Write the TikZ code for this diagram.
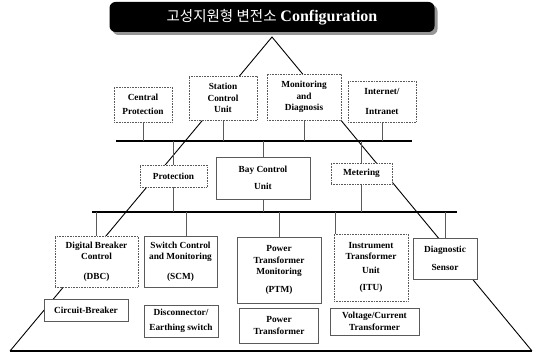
\documentclass[tikz,border=0pt]{standalone}
\usepackage{fontspec}
\setmainfont{Liberation Serif}
\newfontfamily\kofont{Noto Sans CJK KR}
\usepackage{tikz}
\usetikzlibrary{shadows, backgrounds, calc}
\definecolor{ssgray}{RGB}{90,90,90}
\definecolor{ssshade}{RGB}{150,150,150}

\begin{document}
\begin{tikzpicture}[
  x=1pt, y=-1pt,
  every node/.style={font=\bfseries\fontsize{9.3}{11.5}\selectfont},
  unit/.style={rectangle, draw=ssgray, fill=white, align=center,
               inner sep=1pt, line width=0.6pt},
  dotunit/.style={unit, densely dotted},
  title/.style={rectangle, rounded corners=6pt, fill=black, text=white,
                minimum width=325, minimum height=30,
                drop shadow={shadow xshift=3pt, shadow yshift=-3pt,
                             fill=ssshade, opacity=1}},
  bus/.style={line width=1.6pt},
  link/.style={draw=ssgray, line width=0.6pt},
  frame/.style={line width=0.9pt},
]
\useasboundingbox (0,0) rectangle (540,352);

% Title
\node[title] (ttl) at (272,17)
  {{\kofont\mdseries\fontsize{14.5}{16}\selectfont 고성지원형 변전소}\,
   {\fontsize{16}{18}\selectfont Configuration}};

% ── Station level ──
\node[dotunit, minimum width=58, minimum height=35] (cprot) at (143,104.5)
  {Central\\[3pt]Protection};
\node[dotunit, minimum width=68, minimum height=44] (scu) at (223,98)
  {Station\\Control\\Unit};
\node[dotunit, minimum width=74, minimum height=46] (mon) at (304,97)
  {Monitoring\\and\\Diagnosis};
\node[dotunit, minimum width=68, minimum height=41] (inet) at (382,101.5)
  {Internet/\\[8pt]Intranet};

% ── Bay level ──
\node[dotunit, minimum width=67, minimum height=22] (prot) at (173.5,176)
  {Protection};
\node[unit, minimum width=94, minimum height=42] (bay) at (263,178)
  {Bay Control\\[5pt]Unit};
\node[dotunit, minimum width=61, minimum height=21] (met) at (361.5,173.5)
  {Metering};

% ── Process level ──
\node[dotunit, minimum width=83, minimum height=51] (dbc) at (96.5,261.5)
  {Digital Breaker\\Control\\[8pt](DBC)};
\node[unit, minimum width=73, minimum height=51] (scm) at (180.5,261.5)
  {Switch Control\\and Monitoring\\[8pt](SCM)};
\node[unit, minimum width=84, minimum height=66] (ptm) at (279,270)
  {Power\\Transformer\\Monitoring\\[6pt](PTM)};
\node[dotunit, minimum width=74, minimum height=67] (itu) at (371,267.5)
  {Instrument\\Transformer\\[2pt]Unit\\[6pt](ITU)};
\node[unit, minimum width=64, minimum height=41] (diag) at (445,258.5)
  {Diagnostic\\[6pt]Sensor};

% ── Primary equipment ──
\node[unit, minimum width=84, minimum height=22] (cb) at (86,310)
  {Circuit-Breaker};
\node[unit, minimum width=74, minimum height=32] (disc) at (181,321)
  {Disconnector/\\[3pt]Earthing switch};
\node[unit, minimum width=79, minimum height=35] (pt) at (279,325.5)
  {Power\\Transformer};
\node[unit, minimum width=89, minimum height=27] (vct) at (374.5,321.5)
  {Voltage/Current\\Transformer};

% Buses and pyramid corners
\coordinate (b1l) at (116,141);
\coordinate (b1r) at (412,141);
\coordinate (b2l) at (92,212);
\coordinate (b2r) at (457,212);
\coordinate (apex) at (272,37);
\coordinate (pl) at (10,351);
\coordinate (pr) at (532,351);
\path (itu.north west) ++(2,0) coordinate (itutap);
\path (scm.north) ++(6,0) coordinate (scmtap);

\begin{scope}[on background layer]
  % pyramid
  \draw[frame] (pl) -- (apex) -- (pr);
  \draw[bus] (pl) -- (pr);
  % buses
  \draw[bus] (b1l) -- (b1r);
  \draw[bus] (b2l) -- (b2r);
  % station bus taps
  \foreach \n in {cprot, scu, mon, inet}
    \draw[link] (\n.south) -- (\n.south |- b1l);
  \foreach \n in {prot, bay, met}
    \draw[link] (\n.north) -- (\n.north |- b1l);
  % process bus taps
  \foreach \n in {prot, bay, met}
    \draw[link] (\n.south) -- (\n.south |- b2l);
  \foreach \n in {dbc, ptm, diag}
    \draw[link] (\n.north) -- (\n.north |- b2l);
  \draw[link] (scmtap) -- (scmtap |- b2l);
  \draw[link] (itutap) -- (itutap |- b2l);
\end{scope}

\end{tikzpicture}
\end{document}
